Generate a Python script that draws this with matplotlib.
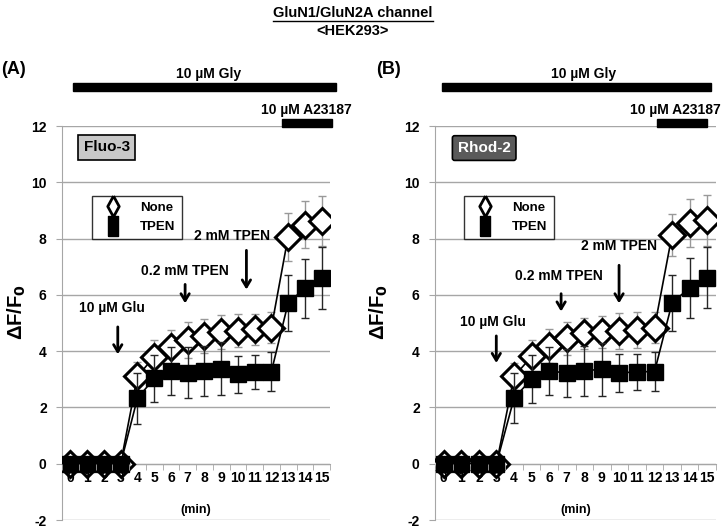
import numpy as np
import matplotlib
matplotlib.use('Agg')
import matplotlib.pyplot as plt
from matplotlib.lines import Line2D
from matplotlib.patches import Rectangle

plt.rcParams['font.family'] = ['Liberation Sans', 'DejaVu Sans']
plt.rcParams['font.weight'] = 'bold'

minutes = list(range(16))
tick_labels = [str(m) for m in minutes]
y_ticks = [-2, 0, 2, 4, 6, 8, 10, 12]
y_tick_labels = ['-2', '0', '2', '4', '6', '8', '10', '12']

# panel A (Fluo-3)
none_a = [0, 0, 0, 0, 3.10, 3.80, 4.15, 4.40, 4.55, 4.67, 4.73, 4.77, 4.83, 8.07, 8.50, 8.63]
none_a_err = [0.05, 0.05, 0.05, 0.05, 0.50, 0.60, 0.60, 0.65, 0.60, 0.60, 0.60, 0.55, 0.55, 0.85, 0.85, 0.90]
tpen_a = [0, 0, 0, 0, 2.32, 3.03, 3.30, 3.24, 3.30, 3.38, 3.18, 3.27, 3.27, 5.71, 6.24, 6.60]
tpen_a_err = [0.05, 0.05, 0.05, 0.05, 0.90, 0.85, 0.85, 0.90, 0.90, 0.95, 0.65, 0.60, 0.70, 1.00, 1.05, 1.10]

# panel B (Rhod-2)
none_b = [0, 0, 0, 0, 3.10, 3.81, 4.17, 4.45, 4.64, 4.68, 4.72, 4.75, 4.84, 8.14, 8.55, 8.65]
none_b_err = [0.05, 0.05, 0.05, 0.05, 0.48, 0.60, 0.60, 0.60, 0.55, 0.56, 0.65, 0.64, 0.55, 0.75, 0.85, 0.90]
tpen_b = [0, 0, 0, 0, 2.33, 3.01, 3.30, 3.22, 3.30, 3.36, 3.22, 3.27, 3.27, 5.72, 6.25, 6.61]
tpen_b_err = [0.05, 0.05, 0.05, 0.05, 0.88, 0.85, 0.85, 0.86, 0.90, 0.94, 0.68, 0.64, 0.70, 1.00, 1.06, 1.09]

# annotations: (text, text_x, text_y, arrow_x, arrow_top, arrow_bottom)
notes_a = [('10 µM Glu', 2.48, 5.55, 2.83, 4.96, 3.79),
           ('0.2 mM TPEN', 6.85, 6.84, 6.85, 6.47, 5.60),
           ('2 mM TPEN', 9.63, 8.08, 10.51, 7.68, 6.09)]
notes_b = [('10 µM Glu', 2.81, 5.02, 2.99, 4.64, 3.48),
           ('0.2 mM TPEN', 6.58, 6.66, 6.68, 6.14, 5.31),
           ('2 mM TPEN', 9.98, 7.75, 9.98, 7.15, 5.60)]
# treatment bars: (start, end, text_x)
gly_a = (0.16, 15.83, 8.27)
gly_b = (-0.10, 15.24, 7.94)
a23_a = (12.62, 15.60, 14.10)
a23_b = (12.13, 15.01, 13.20)

grid_c = '#a6a6a6'


def draw_panel(ax, none, none_err, tpen, tpen_err, notes, gly, a23):
    ax.set_xlim(-0.5, 15.5)
    ax.set_ylim(-2, 12)
    ax.set_yticks(y_ticks)
    ax.set_yticklabels(y_tick_labels, fontsize=10, fontweight='bold')
    for y in y_ticks:
        ax.axhline(y, color=grid_c, lw=1, zorder=0)
    for s in ['top', 'right']:
        ax.spines[s].set_visible(False)
    ax.spines['left'].set_color(grid_c)
    ax.spines['bottom'].set_color(grid_c)
    ax.spines['bottom'].set_position(('data', 0))
    ax.set_xticks(minutes)
    ax.set_xticklabels(tick_labels, fontsize=10, fontweight='bold')
    ax.set_xticks(np.arange(-0.5, 16, 1), minor=True)
    ax.tick_params(axis='x', which='major', length=0, pad=5.5)
    ax.tick_params(axis='x', which='minor', length=4, color=grid_c)
    ax.tick_params(axis='y', length=4, color=grid_c, pad=7)
    ax.xaxis.set_zorder(8)

    ax.errorbar(minutes, none, yerr=none_err, fmt='none', ecolor='#999999',
                elinewidth=1, capsize=3, zorder=2)
    ax.plot(minutes, none, color='black', lw=1.2, marker='D', markersize=13,
            markerfacecolor='white', markeredgecolor='black', markeredgewidth=2.2, zorder=3)
    ax.errorbar(minutes, tpen, yerr=tpen_err, fmt='none', ecolor='#262626',
                elinewidth=1, capsize=3, zorder=4)
    ax.plot(minutes, tpen, color='black', lw=1.2, marker='s', markersize=12,
            markerfacecolor='black', markeredgecolor='black', zorder=5)

    for txt, tx, ty, axx, ytop, ybot in notes:
        ax.text(tx, ty, txt, ha='center', va='center', fontsize=10, fontweight='bold', zorder=6)
        ax.annotate('', xy=(axx, ybot), xytext=(axx, ytop),
                    arrowprops=dict(arrowstyle='->,head_length=0.5,head_width=0.3', lw=2, color='black'),
                    zorder=6)

    ax.text(7.5, -1.65, '(min)', ha='center', va='center', fontsize=9, fontweight='bold')

    ax.add_patch(Rectangle((gly[0], 13.24), gly[1] - gly[0], 0.28, color='black', clip_on=False))
    ax.text(gly[2], 13.84, '10 µM Gly', ha='center', va='center', fontsize=10, fontweight='bold')
    ax.add_patch(Rectangle((a23[0], 11.95), a23[1] - a23[0], 0.30, color='black', clip_on=False, zorder=6))
    ax.text(a23[2], 12.57, '10 µM A23187', ha='center', va='center', fontsize=10, fontweight='bold')

    ax.set_ylabel(r'ΔF/F$_\mathbf{0}$', fontsize=14.5, fontweight='bold')


fig = plt.figure(figsize=(7.24, 5.28), dpi=100)
ax_a = fig.add_axes([62 / 724, 1 - 520 / 528, 268 / 724, 394 / 528])
ax_b = fig.add_axes([435 / 724, 1 - 520 / 528, 281 / 724, 394 / 528])

draw_panel(ax_a, none_a, none_a_err, tpen_a, tpen_a_err, notes_a, gly_a, a23_a)
draw_panel(ax_b, none_b, none_b_err, tpen_b, tpen_b_err, notes_b, gly_b, a23_b)

ax_a.yaxis.set_label_coords(-0.127, 0.527)
ax_b.yaxis.set_label_coords(-0.16, 0.527)

h_none = Line2D([], [], ls='none', marker=[(0, 1), (0.55, 0), (0, -1), (-0.55, 0), (0, 1)],
                markersize=15, markerfacecolor='white', markeredgecolor='black', markeredgewidth=2)
h_tpen = Line2D([], [], ls='none', marker=[(-0.55, -1), (0.55, -1), (0.55, 1), (-0.55, 1), (-0.55, -1)],
                markersize=14, markerfacecolor='black', markeredgecolor='black')

for ax, left in [(ax_a, 0.088), (ax_b, 0.080)]:
    leg = ax.legend([h_none, h_tpen], ['None', 'TPEN'], loc='upper left', bbox_to_anchor=(left, 0.84),
                    frameon=True, fancybox=False, prop={'weight': 'bold', 'size': 9.5},
                    handlelength=2.2, handletextpad=1.0, borderpad=0.45, labelspacing=0.55)
    leg.get_frame().set_edgecolor('black')
    leg.get_frame().set_linewidth(1)
    leg.set_zorder(7)

ax_a.text(0.167, 0.946, 'Fluo-3', transform=ax_a.transAxes, ha='center', va='center',
          fontsize=11, fontweight='bold', color='black',
          bbox=dict(boxstyle='square,pad=0.35', facecolor='#c8c8c8', edgecolor='black', lw=1.2))
ax_b.text(0.175, 0.944, 'Rhod-2', transform=ax_b.transAxes, ha='center', va='center',
          fontsize=11, fontweight='bold', color='white',
          bbox=dict(boxstyle='round,pad=0.35,rounding_size=0.15', facecolor='#5a5a5a', edgecolor='black', lw=1.2))

fig.text(1 / 724, 1 - 70 / 528, '(A)', ha='left', va='center', fontsize=13, fontweight='bold')
fig.text(376 / 724, 1 - 70 / 528, '(B)', ha='left', va='center', fontsize=13, fontweight='bold')

title = fig.text(353 / 724, 1 - 13 / 528, 'GluN1/GluN2A channel', ha='center', va='center',
                 fontsize=10.5, fontweight='bold')
fig.text(353 / 724, 1 - 31 / 528, '<HEK293>', ha='center', va='center', fontsize=10.5, fontweight='bold')

fig.canvas.draw()
bb = title.get_window_extent(fig.canvas.get_renderer())
inv = fig.transFigure.inverted()
(x0, y0), (x1, y1) = inv.transform([(bb.x0, bb.y0), (bb.x1, bb.y1)])
fig.add_artist(Line2D([x0, x1], [y0 - 0.002, y0 - 0.002], transform=fig.transFigure, color='black', lw=1))

fig.savefig('out.png', dpi=100)
